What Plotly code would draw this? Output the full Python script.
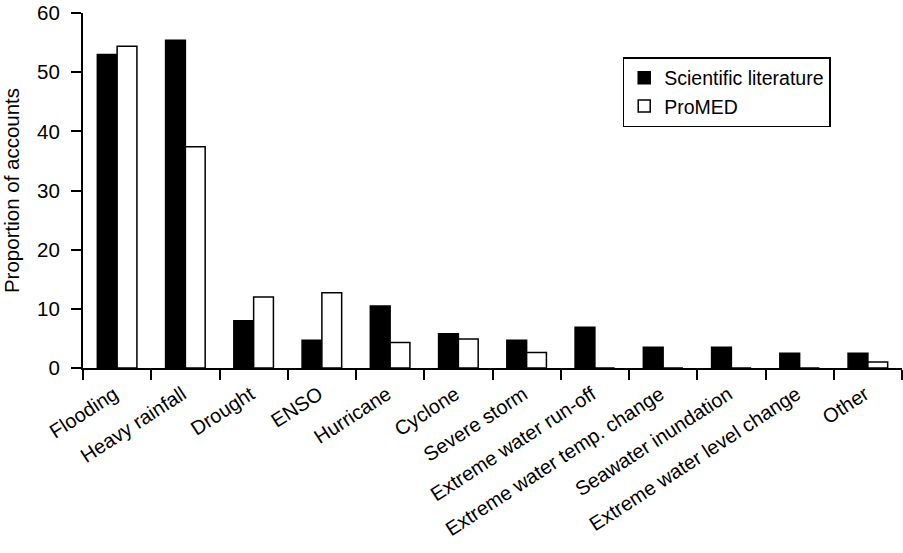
import plotly.graph_objects as go

categories = ["Flooding", "Heavy rainfall", "Drought", "ENSO", "Hurricane", "Cyclone",
              "Severe storm", "Extreme water run-off", "Extreme water temp. change",
              "Seawater inundation", "Extreme water level change", "Other"]
scientific = [53.0, 55.4, 8.0, 4.7, 10.5, 5.8, 4.7, 6.9, 3.5, 3.5, 2.5, 2.5]
promed = [54.4, 37.4, 12.0, 12.7, 4.3, 4.9, 2.6, 0, 0, 0, 0, 1.0]

font_family = "Liberation Sans, Arial, sans-serif"

fig = go.Figure()
fig.add_trace(go.Bar(x=categories, y=scientific, name="Scientific literature",
                     marker=dict(color="black", line=dict(color="black", width=1.5))))
fig.add_trace(go.Bar(x=categories, y=promed, name="ProMED",
                     marker=dict(color="white", line=dict(color="black", width=1.5))))

fig.update_layout(
    width=903, height=553,
    margin=dict(l=83, r=1, t=13, b=185, autoexpand=False),
    paper_bgcolor="white", plot_bgcolor="white",
    barmode="group", bargap=0.42, bargroupgap=0,
    font=dict(family=font_family, size=20, color="black"),
    legend=dict(x=0.659, y=0.876, xanchor="left", yanchor="top",
                bordercolor="black", borderwidth=1.5, bgcolor="white",
                font=dict(size=19.5), tracegroupgap=0),
    xaxis=dict(showline=True, linecolor="black", linewidth=2, ticks="outside",
               ticklen=10, tickwidth=2, tickcolor="black", tickson="boundaries",
               tickangle=-33, tickfont=dict(size=20), showgrid=False,
               ticklabelstandoff=5, ticklabelshift=-3,
               range=[-0.5, 11.5]),
    yaxis=dict(showline=True, linecolor="black", linewidth=2, ticks="outside",
               ticklen=10, tickwidth=2, tickcolor="black", range=[0, 60],
               tickvals=[0, 10, 20, 30, 40, 50, 60], tickfont=dict(size=20.5),
               showgrid=False, zeroline=False, ticklabelstandoff=7,
               title=dict(text="Proportion of accounts", font=dict(size=20.5), standoff=17)),
)

fig.write_html("out.html", config={"displayModeBar": False},
               post_script="document.body.style.margin='0';")
